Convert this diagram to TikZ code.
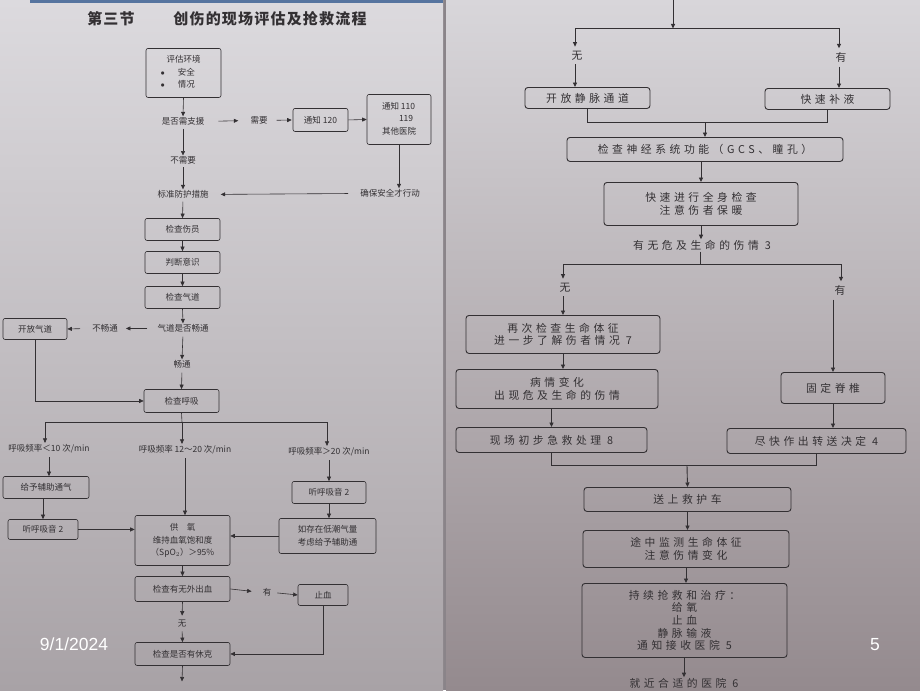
\documentclass[tikz,border=0pt]{standalone}
\usepackage{fontspec}
\setmainfont{Noto Sans CJK SC}
\newfontfamily\widecjk[LetterSpace=33]{Noto Sans CJK SC}
\newfontfamily\titlecjk[LetterSpace=8]{Noto Sans CJK SC}
\newfontfamily\slidefont{Liberation Sans}
\usetikzlibrary{arrows.meta,positioning,calc}
\definecolor{ink}{HTML}{333033}
\definecolor{pagetop}{HTML}{DCDADE}
\definecolor{pagebot}{HTML}{A8A2A6}
\definecolor{rpagetop}{HTML}{D8D6DA}
\definecolor{rpagebot}{HTML}{948A8E}
\definecolor{gapgray}{HTML}{8A8489}
\definecolor{stripblue}{HTML}{56749F}

\begin{document}
\begin{tikzpicture}[x=1pt,y=-1pt,
    arr/.style={-{Triangle[length=4.5pt,width=4pt]}},
    sz/.style 2 args={minimum width=#1,minimum height=#2},
    lbox/.style={draw=ink,rounded corners=2pt,line width=0.6pt,inner sep=1pt,align=center,text=ink,
      font=\fontsize{8.5}{12.5}\selectfont},
    ltxt/.style={text=ink,inner sep=1pt,align=center,font=\fontsize{8.5}{12.5}\selectfont},
    rbox/.style={draw=ink,rounded corners=3pt,line width=0.9pt,inner sep=1pt,align=center,text=ink,
      font=\widecjk\fontsize{10.8}{12.6}\selectfont},
    rtxt/.style={text=ink,inner sep=1pt,align=center,font=\widecjk\fontsize{10.8}{12.6}\selectfont}]

% pages
\fill[gapgray] (0,0) rectangle (920,690);
\shade[top color=pagetop,bottom color=pagebot] (0,0) rectangle (443,690);
\shade[top color=rpagetop,bottom color=rpagebot] (446,0) rectangle (920,690);
\fill[stripblue] (30,0) rectangle (443,2.5);

% left page
\node[text=ink,font=\titlecjk\bfseries\fontsize{15}{18}\selectfont] (sec) at (111,18) {第三节};
\node[text=ink,font=\titlecjk\bfseries\fontsize{15}{18}\selectfont] (title) at (270,18) {创伤的现场评估及抢救流程};

\node[lbox,sz={75}{49}] (env) at (183.5,72.5) {%
  \begin{tabular}{@{}l@{\hspace{13pt}}l@{}}\multicolumn{2}{c}{评估环境}\\ $\bullet$ & 安全\\ $\bullet$ & 情况\end{tabular}};
\node[ltxt] (sup) at (183,121) {是否需支援};
\node[ltxt] (need) at (259,120) {需要};
\node[lbox,sz={55}{23}] (n120) at (320.5,119.5) {通知 120};
\node[lbox,sz={64}{50}] (n110) at (399,119) {\begin{tabular}{@{}l@{}}通知 110\\\hspace*{17pt}119\\其他医院\end{tabular}};
\node[ltxt] (noneed) at (183,160) {不需要};
\node[ltxt] (std) at (183,194) {标准防护措施};
\node[ltxt] (safe) at (390,193) {确保安全才行动};
\node[lbox,sz={75}{22}] (injured) at (182.5,229) {检查伤员};
\node[lbox,sz={75}{22}] (judge) at (182.5,262) {判断意识};
\node[lbox,sz={75}{22}] (airway) at (182.5,297) {检查气道};
\node[ltxt] (aq) at (183,328) {气道是否畅通};
\node[ltxt] (blocked) at (105,328) {不畅通};
\node[lbox,sz={64}{21}] (open) at (35,328.5) {开放气道};
\node[ltxt] (clear) at (182,364) {畅通};
\node[lbox,sz={75}{23}] (breath) at (181.5,400.5) {检查呼吸};
\node[ltxt] (rlow) at (49,448) {呼吸频率＜10 次/min};
\node[ltxt] (rmid) at (185,449) {呼吸频率 12～20 次/min};
\node[ltxt] (rhigh) at (329,451) {呼吸频率＞20 次/min};
\node[lbox,sz={86}{22}] (assist) at (46,487) {给予辅助通气};
\node[lbox,sz={70}{20}] (listena) at (43,529) {听呼吸音 2};
\node[lbox,sz={95}{50}] (oxy) at (182.5,540) {供\quad 氧\\维持血氧饱和度\\（SpO$_2$）＞95\%};
\node[lbox,sz={74}{22}] (listenb) at (329,492) {听呼吸音 2};
\node[lbox,sz={97}{35}] (lowtv) at (327.5,535.5) {如存在低潮气量\\考虑给予辅助通};
\node[lbox,sz={95}{25}] (bleed) at (182.5,588.5) {检查有无外出血};
\node[ltxt] (yes) at (267,592) {有};
\node[lbox,sz={50}{21}] (stop) at (323,594.5) {止血};
\node[ltxt] (no) at (182,623) {无};
\node[lbox,sz={95}{23}] (shock) at (182.5,653.5) {检查是否有休克};
\coordinate (shockout) at (182,681);

\coordinate (split) at (182,422);
\coordinate (spl) at (45,422);
\coordinate (spr) at (327,422);

\begin{scope}[draw=ink,line width=0.6pt]
\draw[arr] (env.south) -- (sup.north);
\draw[arr,shorten <=13pt,shorten >=11pt] (sup.east) -- (need.west);
\draw[arr,shorten <=8pt,shorten >=1pt] (need.east) -- (n120.west);
\draw[arr] (n120.east) -- (n110.west);
\draw[arr] (n110.south) -- (n110.south |- safe.north);
\draw[arr,shorten <=11pt,shorten >=11pt] (safe.west) -- (std.east);
\draw[arr,shorten <=2pt] (sup.south) -- (noneed.north);
\draw[arr,shorten <=2pt] (noneed.south) -- (std.north);
\draw[arr,shorten <=2pt] (std.south) -- (injured.north);
\draw[arr] (injured.south) -- (judge.north);
\draw[arr] (judge.south) -- (airway.north);
\draw[arr] (airway.south) -- (aq.north);
\draw[arr,shorten <=9pt,shorten >=7pt] (aq.west) -- (blocked.east);
\draw[arr,shorten <=11pt] (blocked.west) -- (open.east);
\draw[arr,shorten <=3pt] (aq.south) -- (clear.north);
\draw[arr,shorten <=3pt] (clear.south) -- (breath.north);
\draw[arr] (open.south) |- (breath.west);
\draw (breath.south) -- (split);
\draw (spl) -- (spr);
\draw[arr] (spl) -- (spl |- rlow.north);
\draw[arr] (split) -- (split |- rmid.north);
\draw[arr] (spr) -- (spr |- rhigh.north);
\draw[arr,shorten <=3pt] (rlow.south) -- (rlow.south |- assist.north);
\draw[arr] (listena.north |- assist.south) -- (listena.north);
\draw[arr] (listena.east) -- (listena.east -| oxy.west);
\draw[arr,shorten <=3pt] (rmid.south) -- (rmid.south |- oxy.north);
\draw[arr,shorten <=3pt] (rhigh.south) -- (rhigh.south |- listenb.north);
\draw[arr] (listenb.south) -- (listenb.south |- lowtv.north);
\draw[arr] (lowtv.west) -- (lowtv.west -| oxy.east);
\draw[arr] (oxy.south) -- (bleed.north);
\draw[arr,shorten >=10pt] (bleed.east) -- (yes.west);
\draw[arr,shorten <=5pt] (yes.east) -- (stop.west);
\draw[arr,shorten >=3pt] (bleed.south) -- (no.north);
\draw[arr,shorten <=3pt] (no.south) -- (shock.north);
\draw[arr] (stop.south) |- (shock.east);
\draw[arr] (shock.south) -- (shockout);
\end{scope}

% right page
\coordinate (rtop) at (673,0);
\coordinate (rs) at (673,28);
\coordinate (rsl) at (575,28);
\coordinate (rsr) at (839,28);
\node[rtxt] (noa) at (577,55) {无};
\node[rtxt] (yesa) at (841,57) {有};
\node[rbox,sz={125}{21}] (iv) at (587.5,97.5) {开放静脉通道};
\node[rbox,sz={125}{21}] (fluid) at (827.5,98.5) {快速补液};
\coordinate (joina) at (705,122);
\node[rbox,sz={276}{24}] (neuro) at (705,149) {检查神经系统功能（GCS、瞳孔）};
\node[rbox,sz={194}{43}] (whole) at (701,203.5) {快速进行全身检查\\注意伤者保暖};
\node[rtxt] (danger) at (702,245) {有无危及生命的伤情 3};
\coordinate (ds) at (700,264);
\coordinate (dsl) at (563,264);
\coordinate (dsr) at (841,264);
\node[rtxt] (nob) at (565,287) {无};
\node[rtxt] (yesb) at (840,290) {有};
\node[rbox,sz={194}{38}] (recheck) at (563,334) {再次检查生命体征\\进一步了解伤者情况 7};
\node[rbox,sz={202}{39}] (worse) at (557,388.5) {病情变化\\出现危及生命的伤情};
\node[rbox,sz={191}{25}] (firstaid) at (551.5,439.5) {现场初步急救处理 8};
\node[rbox,sz={104}{31}] (spine) at (833,387.5) {固定脊椎};
\node[rbox,sz={179}{25}] (transfer) at (816.5,440.5) {尽快作出转送决定 4};
\coordinate (joinb) at (687,465);
\node[rbox,sz={207}{24}] (amb) at (687.5,499) {送上救护车};
\node[rbox,sz={206}{37}] (monitor) at (686,548.5) {途中监测生命体征\\注意伤情变化};
\node[rbox,sz={205}{74}] (cont) at (684.5,620) {持续抢救和治疗：\\给氧\\止血\\静脉输液\\通知接收医院 5};
\node[rtxt] (hosp) at (684,683) {就近合适的医院 6};

\begin{scope}[draw=ink,line width=0.9pt]
\draw[arr] (rtop) -- (rs);
\draw (rsl) -- (rsr);
\draw[arr] (rsl) -- ([yshift=3pt]rsl |- noa.north);
\draw[arr] (rsr) -- ([yshift=3pt]rsr |- yesa.north);
\draw[arr,shorten <=3pt] (rsl |- noa.south) -- (rsl |- iv.north);
\draw[arr,shorten <=3pt] (rsr |- yesa.south) -- (rsr |- fluid.north);
\draw (iv.south) |- (joina) -| (fluid.south);
\draw[arr] (joina) -- (neuro.north);
\draw[arr] (neuro.south -| whole.north) -- (whole.north);
\draw[arr] (whole.south) -- (whole.south |- danger.north);
\draw (ds |- danger.south) -- (ds);
\draw (dsl) -- (dsr);
\draw[arr] (dsl) -- ([yshift=3pt]dsl |- nob.north);
\draw[arr] (dsr) -- ([yshift=3pt]dsr |- yesb.north);
\draw[arr,shorten <=3pt] (nob.south -| dsl) -- (dsl |- recheck.north);
\draw[arr] (recheck.south) -- (recheck.south |- worse.north);
\draw[arr] (firstaid.north |- worse.south) -- (firstaid.north);
\draw[arr,shorten <=3pt] (spine.north |- yesb.south) -- (spine.north);
\draw[arr] (spine.south) -- (spine.south |- transfer.north);
\draw (firstaid.south) |- (joinb) -| (transfer.south);
\draw[arr] (joinb) -- (amb.north);
\draw[arr] (amb.south) -- (amb.south |- monitor.north);
\draw[arr] (monitor.south) -- (monitor.south |- cont.north);
\draw[arr] (hosp.north |- cont.south) -- (hosp.north);
\end{scope}

% slide footer
\node[text=white,font=\slidefont\fontsize{17.5}{20}\selectfont] (date) at (74,644) {9/1/2024};
\node[text=white,font=\slidefont\fontsize{17.5}{20}\selectfont] (pageno) at (875,644) {5};
\end{tikzpicture}
\end{document}
